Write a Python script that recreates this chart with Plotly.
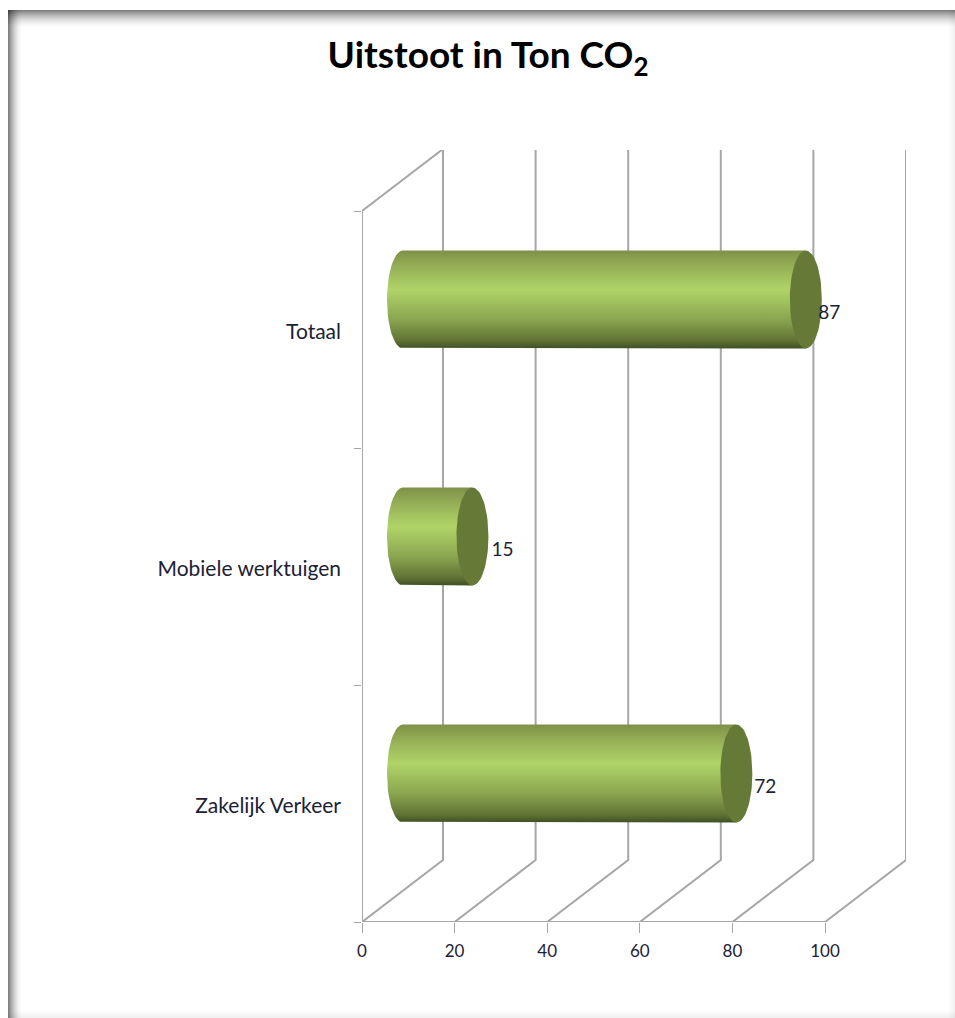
import numpy as np
import plotly.graph_objects as go

categories = ["Zakelijk Verkeer", "Mobiele werktuigen", "Totaal"]
values = [72, 15, 87]
x_ticks = [0, 20, 40, 60, 80, 100]
title = "Uitstoot in Ton CO<sub>2</sub>"

W, H = 955, 1018
L, R, T, B = 362, 906, 150, 922
PX_X = 4.63          # pixels per x unit
PX_Y = 237.0         # pixels per category band
DX, DY = 81 / PX_X, 62 / PX_Y      # full depth of the 3D box in axis units
BAR_DX, BAR_DY = 41 / PX_X, 30 / PX_Y  # bar position inside the depth
RX, RY = 16 / PX_X, 49 / PX_Y      # ellipse radii
GRID = "#a6a6a6"
TXT = "#1c2233"
FONT = "Lato"
GRAD = [[0, "#3f4f24"], [0.08, "#5f7434"], [0.3, "#8ba650"], [0.6, "#b0d468"],
        [0.85, "#93ad55"], [1, "#7d9148"]]
CAP = "#667a38"
label_shift = [70 / PX_X, 71 / PX_X, 64.5 / PX_X]

fig = go.Figure()


def line(xs, ys, width=2):
    fig.add_trace(go.Scatter(x=xs, y=ys, mode="lines", hoverinfo="skip", showlegend=False,
                             line=dict(color=GRID, width=width)))


ymax = len(categories)
for t in x_ticks:
    line([t, t + DX, t + DX], [0, DY, ymax + DY])
line([0, 0, DX], [0, ymax, ymax + DY])
line([0, x_ticks[-1]], [0, 0])

ang = np.linspace(0, 2 * np.pi, 73)
for i, v in enumerate(values):
    cx0 = BAR_DX
    cx1 = BAR_DX + v
    cy = i + 0.5 + BAR_DY
    a_left = np.linspace(1.5 * np.pi, 0.5 * np.pi, 37)
    xs = [cx0, cx1] + [cx1] + list(cx0 + RX * np.cos(a_left)) + [cx0]
    ys = [cy + RY, cy + RY] + [cy - RY] + list(cy + RY * np.sin(a_left)) + [cy + RY]
    fig.add_trace(go.Scatter(x=xs, y=ys, mode="lines", fill="toself", hoverinfo="skip",
                             showlegend=False, line=dict(width=0, color="rgba(0,0,0,0)"),
                             fillgradient=dict(type="vertical", colorscale=GRAD)))
    fig.add_trace(go.Scatter(x=cx1 + RX * np.cos(ang), y=cy + RY * np.sin(ang), mode="lines",
                             fill="toself", fillcolor=CAP, hoverinfo="skip", showlegend=False,
                             line=dict(width=0, color=CAP)))

fig.add_trace(go.Scatter(
    x=[v + s for v, s in zip(values, label_shift)],
    y=[i + 0.5 + 15 / PX_Y for i in range(len(values))],
    mode="text", text=[str(v) for v in values], textposition="middle center",
    textfont=dict(family=FONT, size=19, color=TXT), hoverinfo="skip", showlegend=False))

shapes = []


def paper_x(x):
    return (x - L) / (R - L)


def paper_y(y):
    return (B - y) / (B - T)


def band(x0, x1, y0, y1, a):
    shapes.append(dict(type="rect", xref="paper", yref="paper", x0=paper_x(x0), x1=paper_x(x1),
                       y0=paper_y(y0), y1=paper_y(y1), fillcolor=f"rgba(0,0,0,{a:.3f})",
                       line_width=0, layer="below"))


for k in range(14):
    band(8 + k, 9 + k, 10, 1018, 0.5 * (1 - k / 14) ** 1.8)
for k in range(18):
    band(8, 955, 10 + k, 11 + k, 0.5 * (1 - k / 18) ** 1.8)
for k in range(7):
    band(8, 955, 1018 - k, 1017 - k, 0.055 * (1 - k / 7))
    band(955 - k, 954 - k, 10, 1018, 0.05 * (1 - k / 7))

fig.update_layout(
    width=W, height=H, margin=dict(l=L, r=W - R, t=T, b=H - B, pad=0),
    paper_bgcolor="white", plot_bgcolor="rgba(0,0,0,0)", showlegend=False, shapes=shapes,
    title=dict(text=title, x=488 / W, xanchor="center", xref="container", y=1 - 55 / H,
               yanchor="middle", yref="container",
               font=dict(family=FONT, size=37, color="#000000", weight="bold")),
    xaxis=dict(range=[0, (R - L) / PX_X], tickvals=x_ticks, ticktext=[str(t) for t in x_ticks],
               showgrid=False, zeroline=False, showline=False, ticks="outside", ticklen=10,
               tickcolor=GRID, tickwidth=1, ticklabelstandoff=4,
               tickfont=dict(family=FONT, size=17, color=TXT)),
    yaxis=dict(range=[0, (B - T) / PX_Y],
               tickvals=[i + 0.5 - 2 / PX_Y for i in range(len(categories))],
               ticktext=categories, showgrid=False, zeroline=False, showline=False, ticks="",
               ticklabelstandoff=20, tickfont=dict(family=FONT, size=21, color=TXT),
               minor=dict(tickvals=list(range(len(categories) + 1)), ticks="outside", ticklen=7,
                          tickcolor=GRID, tickwidth=1, showgrid=False)),
)
fig.write_html("out.html", config={"displayModeBar": False},
               post_script="document.body.style.margin='0';")
